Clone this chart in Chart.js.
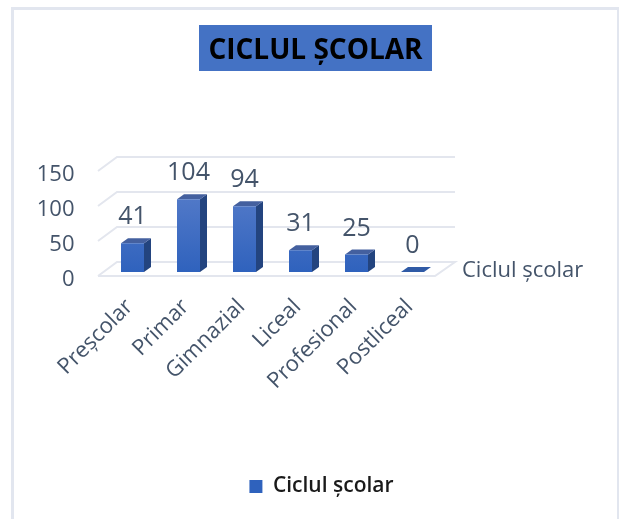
<!DOCTYPE html>
<html><head><meta charset="utf-8">
<style>html,body{margin:0;padding:0;background:#fff}#w{position:absolute;left:0;top:0;width:619px;height:519px}</style>
<script src="https://cdn.jsdelivr.net/npm/chart.js@4/dist/chart.umd.min.js"></script>
</head><body><div id="w"><canvas id="c" width="619" height="519"></canvas></div>
<script>
const titleText = "CICLUL ȘCOLAR";
const seriesName = "Ciclul școlar";
const categories = ["Preșcolar","Primar","Gimnazial","Liceal","Profesional","Postliceal"];
const values = [41,104,94,31,25,0];
const yTicks = [0,50,100,150];
const FONT = '"Open Sans"';
const INK = '#44546a';

const DX=7, DY=5, LIFT=8;
const threeD = {
  id:'threeD',
  afterLayout(chart){
    const l=chart.legend; l.left+=6; l.right+=6;
  },
  beforeDraw(chart){
    const {ctx,scales:{y},chartArea:a}=chart;
    ctx.save();
    ctx.strokeStyle='#e2e6ef';ctx.lineWidth=3;
    ctx.strokeRect(12.5,8.5,606,530);
    ctx.fillStyle='#4472c4';
    ctx.fillRect(199,25,233,46);
    ctx.strokeStyle='#e3e6ee';ctx.lineWidth=2;
    const wl=a.left+12.5, wr=a.right+14.5;
    yTicks.forEach(v=>{
      const py=y.getPixelForValue(v)-LIFT-10;
      ctx.beginPath();
      ctx.moveTo(wl-19,py+14);ctx.lineTo(wl,py);ctx.lineTo(wr,py);
      if(v===0){ctx.lineTo(wr-20,py+14);ctx.lineTo(wl-19,py+14);}
      ctx.stroke();
    });
    ctx.restore();
  },
  beforeDatasetsDraw(chart){
    const ctx=chart.ctx;
    ctx.save();ctx.translate(0,-LIFT);
    chart.getDatasetMeta(0).data.forEach(b=>{
      const l=b.x-b.width/2,r=b.x+b.width/2;
      ctx.fillStyle='#23447f';
      ctx.beginPath();ctx.moveTo(r,b.base);ctx.lineTo(r+DX,b.base-DY);ctx.lineTo(r+DX,b.y-DY);ctx.lineTo(r,b.y);ctx.closePath();ctx.fill();
      ctx.fillStyle=(b.base-b.y)<1?'#2f5aa6':'#44609f';
      ctx.beginPath();ctx.moveTo(l,b.y);ctx.lineTo(l+DX,b.y-DY);ctx.lineTo(r+DX,b.y-DY);ctx.lineTo(r,b.y);ctx.closePath();ctx.fill();
    });
  },
  afterDatasetsDraw(chart){
    const ctx=chart.ctx;
    ctx.restore();
    ctx.save();
    ctx.fillStyle=INK;ctx.textAlign='center';ctx.textBaseline='alphabetic';
    ctx.font='25px '+FONT;
    chart.getDatasetMeta(0).data.forEach((b,i)=>{
      ctx.fillText(String(values[i]),b.x,b.y-LIFT-19);
    });
    ctx.textAlign='left';ctx.font='22px '+FONT;
    ctx.fillText(seriesName,462,277);
    ctx.restore();
  }
};

new Chart(document.getElementById('c'),{
  type:'bar',
  data:{labels:categories,datasets:[{
    label:seriesName,data:values,
    barPercentage:23/56,categoryPercentage:1,
    backgroundColor(c){
      const a=c.chart.chartArea; if(!a) return '#4472c4';
      const g=c.chart.ctx.createLinearGradient(0,a.top,0,a.bottom);
      g.addColorStop(0,'#5f82cc');g.addColorStop(1,'#2f62bd');return g;
    }
  }]},
  plugins:[threeD],
  options:{
    responsive:false,animation:false,
    layout:{padding:{left:12,right:0,top:0,bottom:12}},
    plugins:{
      tooltip:{enabled:false},
      title:{display:true,text:titleText,color:'#000',font:{family:FONT,size:28,weight:'bold'},padding:{top:34,bottom:107.4}},
      legend:{position:'bottom',labels:{boxWidth:13,boxHeight:13,color:'#1a1a1a',font:{family:FONT,size:21,weight:'600'},padding:4}}
    },
    scales:{
      x:{offset:true,grid:{display:false},border:{display:false},
        ticks:{color:INK,font:{family:FONT,size:22},minRotation:45,maxRotation:45,padding:6,labelOffset:-3},
        afterFit(s){s.height=192;}},
      y:{min:0,max:150,grid:{display:false},border:{display:false},
        afterBuildTicks(s){s.ticks=yTicks.map(v=>({value:v}));},
        ticks:{color:INK,font:{family:FONT,size:22},padding:22},
        afterFit(s){s.width=92.5;}},
      r:{position:'right',display:true,grid:{display:false},border:{display:false},ticks:{display:false},
        afterFit(s){s.width=178.5;}}
    }
  }
});
</script></body></html>
